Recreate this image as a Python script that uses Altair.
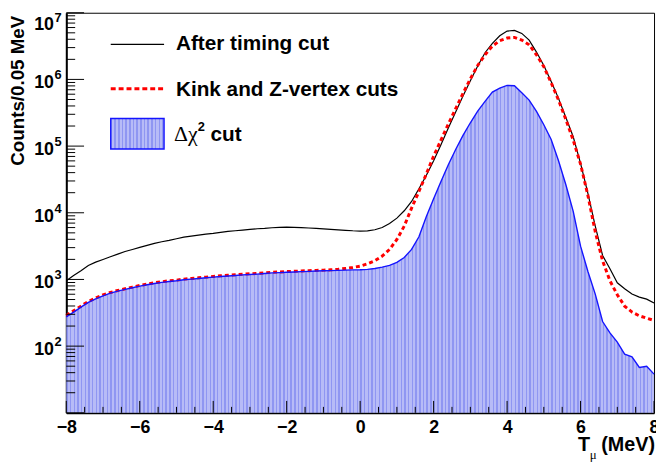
import altair as alt
import pandas as pd

# ---- data (bin centres every 0.2 MeV) ----
t_mev = [round(-8 + 0.2 * i, 1) for i in range(81)]

after_timing = [
    955, 1148, 1349, 1622, 1820, 1995, 2188, 2399, 2630, 2818,
    3020, 3236, 3467, 3673, 3846, 4074, 4315, 4467, 4624, 4786,
    4898, 5070, 5248, 5370, 5495, 5623, 5754, 5821, 5957, 6026,
    6095, 6053, 5998, 5916, 5834, 5728, 5623, 5534, 5458, 5370,
    5321, 5346, 5559, 6026, 6918, 8318, 10720, 14790, 22900, 36300,
    60300, 104700, 186200, 323600, 562300, 955000, 1585000, 2512000, 3467000, 4519000,
    5309000, 5433000, 4898000, 3890000, 2570000, 1622000, 933000, 520000, 269200, 138000,
    54950, 19500, 6310, 2291, 1450, 891, 724, 603, 543, 507,
    442,
]

kink_zvertex = [
    288, 339, 398, 468, 525, 589, 638, 684, 724, 767,
    813, 851, 891, 923, 955, 977, 1012, 1035, 1059, 1084,
    1109, 1135, 1153, 1175, 1197, 1216, 1230, 1259, 1282, 1294,
    1312, 1324, 1343, 1355, 1368, 1380, 1396, 1419, 1462, 1514,
    1585, 1718, 1905, 2239, 2818, 3981, 6310, 11750, 20900, 38000,
    70800, 123000, 213800, 363100, 616600, 1023000, 1622000, 2344000, 3162000, 3802000,
    4169000, 4266000, 3890000, 3311000, 2344000, 1549000, 891000, 489800, 251200, 123000,
    53700, 18200, 5200, 1900, 955, 589, 398, 324, 285, 263,
    243,
]

dchi2_cut = [
    275, 324, 385, 452, 513, 569, 624, 668, 708, 750,
    794, 832, 871, 902, 933, 955, 989, 1012, 1035, 1059,
    1084, 1109, 1127, 1148, 1169, 1189, 1202, 1230, 1253, 1265,
    1282, 1294, 1312, 1324, 1337, 1349, 1358, 1368, 1380, 1390,
    1400, 1419, 1462, 1531, 1622, 1799, 2138, 2818, 4365, 8710,
    16200, 29500, 52500, 89100, 144500, 223900, 335000, 467700, 645700, 741300,
    812800, 803500, 631000, 489800, 331100, 208900, 125900, 60300, 26300, 10500,
    3160, 1318, 603, 234, 158, 115, 76, 69, 48, 50,
    38,
]

x_major_ticks = [-8, -6, -4, -2, 0, 2, 4, 6, 8]
x_minor_ticks = [-7.5, -7, -6.5, -5.5, -5, -4.5, -3.5, -3, -2.5, -1.5, -1, -0.5,
                 0.5, 1, 1.5, 2.5, 3, 3.5, 4.5, 5, 5.5, 6.5, 7, 7.5]
y_major_ticks = [10, 100, 1000, 10000, 100000, 1000000, 10000000]
y_minor_ticks = [k * 10 ** d for d in range(1, 7) for k in range(2, 10)]
y_label_values = [100, 1000, 10000, 100000, 1000000]
y_label_exps = ["2", "3", "4", "5", "6"]
y_top_value = [10000000]
y_top_exp = ["7"]

legend_labels = ["After timing cut", "Kink and Z-vertex cuts"]

assert len(after_timing) == len(kink_zvertex) == len(dchi2_cut) == len(t_mev)

df = pd.DataFrame({"T": t_mev, "after": after_timing, "kink": kink_zvertex, "dchi2": dchi2_cut})
df_xmaj = pd.DataFrame({"t": x_major_ticks})
df_xmin = pd.DataFrame({"t": x_minor_ticks})
df_ymaj = pd.DataFrame({"v": y_major_ticks})
df_ymin = pd.DataFrame({"v": y_minor_ticks})
df_ylab = pd.DataFrame({"v": y_label_values, "e": y_label_exps})
df_ytop = pd.DataFrame({"v": y_top_value, "e": y_top_exp})
one = pd.DataFrame({"k": [0]})

W, H = 595, 405
FONT = "Liberation Sans"
BLUE_LINE = "#1414ff"
HATCH_DARK = "#8f96f2"
HATCH_LIGHT = "#b7bbf7"


def hatch(width_px, period_px=3.72, dark_frac=0.4):
    """Vertical-line hatch (ROOT fill style) as a horizontal striped gradient."""
    step = period_px / width_px
    stops = []
    p = 0.0
    while p < 1.0:
        a = min(p + dark_frac * step, 1.0)
        b = min(p + step, 1.0)
        stops += [alt.GradientStop(offset=p, color=HATCH_DARK),
                  alt.GradientStop(offset=a, color=HATCH_DARK),
                  alt.GradientStop(offset=a, color=HATCH_LIGHT),
                  alt.GradientStop(offset=b, color=HATCH_LIGHT)]
        p = b
    return alt.LinearGradient(gradient="linear", stops=stops, x1=0, x2=1, y1=0, y2=0)


xs = alt.Scale(domain=[-8, 8], nice=False, zero=False)
ys = alt.Scale(type="log", domain=[10, 1e7], nice=False)

x_axis = alt.Axis(values=x_major_ticks, ticks=False, grid=False, title=None,
                  labelFont=FONT, labelFontSize=18, labelFontWeight="bold",
                  labelColor="black", labelPadding=6, labelFlush=False,
                  labelOverlap=False, labelBound=False,
                  domain=True, domainColor="black", domainWidth=2)
y_axis = alt.Axis(labels=False, ticks=False, grid=False, title=None,
                  domain=True, domainColor="black", domainWidth=2)


def xenc(field):
    return alt.X(field, type="quantitative", scale=xs, axis=x_axis)


def yenc(field):
    return alt.Y(field, type="quantitative", scale=ys, axis=y_axis)


def fixed_text(txt, x, y, size, bold=True, font=FONT, align="left", angle=None):
    kw = dict(align=align, baseline="alphabetic", fontSize=size,
              fontWeight="bold" if bold else "normal", font=font, color="black")
    if angle is not None:
        kw["angle"] = angle
        kw["baseline"] = "middle"
    return alt.Chart(one).mark_text(**kw).encode(
        x=alt.value(x), y=alt.value(y), text=alt.value(txt))


base = alt.Chart(df)

area = base.mark_area(fill=hatch(W), opacity=1, interpolate="linear").encode(
    x=xenc("T"), y=yenc("dchi2"), y2=alt.datum(10))

black_line = base.mark_line(color="black", strokeWidth=1.2).encode(
    x=xenc("T"), y=yenc("after"))

red_line = base.mark_line(color="#ff0000", strokeWidth=3, strokeDash=[4, 3]).encode(
    x=xenc("T"), y=yenc("kink"))

blue_line = base.mark_line(color=BLUE_LINE, strokeWidth=1.4).encode(
    x=xenc("T"), y=yenc("dchi2"))

xmaj = alt.Chart(df_xmaj).mark_rule(color="black", strokeWidth=1).encode(
    x=xenc("t"), y=alt.value(H), y2=alt.value(H - 12))
xmin = alt.Chart(df_xmin).mark_rule(color="black", strokeWidth=1).encode(
    x=xenc("t"), y=alt.value(H), y2=alt.value(H - 6))
ymaj = alt.Chart(df_ymaj).mark_rule(color="black", strokeWidth=1).encode(
    y=yenc("v"), x=alt.value(0), x2=alt.value(18))
ymin = alt.Chart(df_ymin).mark_rule(color="black", strokeWidth=1).encode(
    y=yenc("v"), x=alt.value(0), x2=alt.value(9))

ylab_base = alt.Chart(df_ylab).mark_text(
    align="right", baseline="alphabetic", dy=9, fontSize=18, fontWeight="bold",
    font=FONT, color="black").encode(y=yenc("v"), x=alt.value(-12.5), text=alt.value("10"))
ylab_exp = alt.Chart(df_ylab).mark_text(
    align="left", baseline="alphabetic", dy=0, fontSize=13, fontWeight="bold",
    font=FONT, color="black").encode(y=yenc("v"), x=alt.value(-12), text="e:N")
ytop_base = alt.Chart(df_ytop).mark_text(
    align="right", baseline="alphabetic", dy=17, fontSize=18, fontWeight="bold",
    font=FONT, color="black").encode(y=yenc("v"), x=alt.value(-12.5), text=alt.value("10"))
ytop_exp = alt.Chart(df_ytop).mark_text(
    align="left", baseline="alphabetic", dy=9, fontSize=13, fontWeight="bold",
    font=FONT, color="black").encode(y=yenc("v"), x=alt.value(-12), text="e:N")

# legend (drawn inside the frame, top-left)
leg_black = alt.Chart(one).mark_rule(color="black", strokeWidth=1.2).encode(
    x=alt.value(45), x2=alt.value(99), y=alt.value(32))
leg_red = alt.Chart(one).mark_rule(color="#ff0000", strokeWidth=3, strokeDash=[5, 3]).encode(
    x=alt.value(45), x2=alt.value(99), y=alt.value(77))
leg_box = alt.Chart(one).mark_rect(fill=hatch(54), stroke=BLUE_LINE, strokeWidth=1.4).encode(
    x=alt.value(45), x2=alt.value(99), y=alt.value(107), y2=alt.value(138))
leg_t1 = fixed_text(legend_labels[0], 111, 38, 21)
leg_t2 = fixed_text(legend_labels[1], 111, 84, 21)
leg_t3a = fixed_text("Δχ", 109, 130, 22, bold=False, font="Liberation Serif")
leg_t3b = fixed_text("2", 133, 120, 13)
leg_t3c = fixed_text("cut", 146, 130, 21)

# axis titles
ytitle = fixed_text("Counts/0.05 MeV", -49, 3, 19, align="right", angle=270)
xt_T = fixed_text("T", 518, 444, 20)
xt_mu = fixed_text("μ", 530, 452, 13, bold=False, font="Liberation Serif")
xt_unit = fixed_text("(MeV)", 596, 444, 20, align="right")

chart = alt.layer(
    area, black_line, red_line, blue_line,
    xmaj, xmin, ymaj, ymin, ylab_base, ylab_exp, ytop_base, ytop_exp,
    leg_black, leg_red, leg_box, leg_t1, leg_t2, leg_t3a, leg_t3b, leg_t3c,
    ytitle, xt_T, xt_mu, xt_unit,
).properties(
    width=W, height=H,
    padding={"left": 59, "top": 2, "right": 2, "bottom": 47},
    autosize=alt.AutoSizeParams(type="none"),
    background="white",
).configure_view(stroke="black", strokeWidth=1)

chart.save("out.html", embed_options={"renderer": "svg", "actions": False})
